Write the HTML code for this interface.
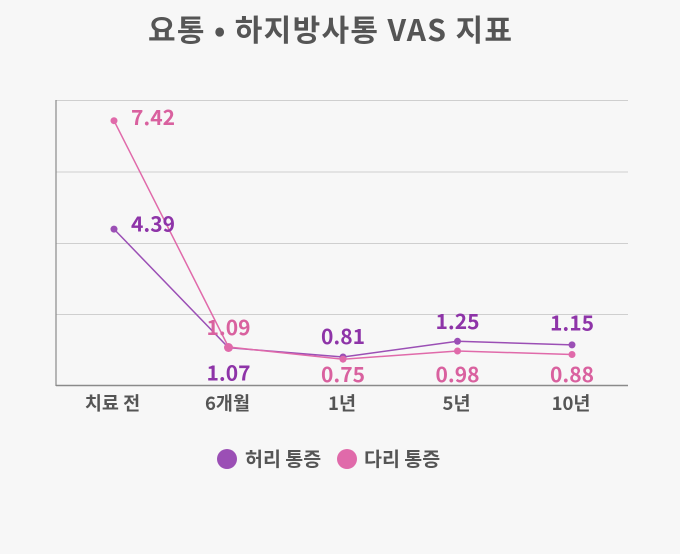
<!DOCTYPE html>
<html>
<head>
<meta charset="utf-8">
<style>
html,body{margin:0;padding:0;background:#f7f7f7;}
svg{display:block;}
text{font-family:"Noto Sans CJK KR","Liberation Sans",sans-serif;font-weight:bold;}
</style>
</head>
<body>
<svg width="680" height="554" viewBox="0 0 680 554" xmlns="http://www.w3.org/2000/svg">
<rect x="0" y="0" width="680" height="554" fill="#f7f7f7"/>
<text x="330" y="41" text-anchor="middle" font-size="30" fill="#555" textLength="364" lengthAdjust="spacing">요통 • 하지방사통 VAS 지표</text>

<!-- grid -->
<g stroke="#cfcfcf" stroke-width="1">
<line x1="56" y1="100.5" x2="628" y2="100.5"/>
<line x1="56" y1="172" x2="628" y2="172"/>
<line x1="56" y1="243.5" x2="628" y2="243.5"/>
<line x1="56" y1="314.5" x2="628" y2="314.5"/>
</g>
<line x1="56" y1="100" x2="56" y2="386" stroke="#8a8a8a" stroke-width="1.2"/>
<line x1="56" y1="385.5" x2="628" y2="385.5" stroke="#8a8a8a" stroke-width="1.4"/>

<!-- purple series -->
<polyline points="114,229.1 228.5,347.7 343,357 457.5,341.3 572,344.9" fill="none" stroke="#9b4fb5" stroke-width="1.5"/>
<g fill="#9b4fb5">
<circle cx="114" cy="229.1" r="3.5"/>
<circle cx="228.5" cy="347.7" r="3.5"/>
<circle cx="343" cy="357" r="3.5"/>
<circle cx="457.5" cy="341.3" r="3.5"/>
<circle cx="572" cy="344.9" r="3.5"/>
</g>
<!-- pink series -->
<polyline points="114,120.7 228.5,347 343,359.2 457.5,351 572,354.5" fill="none" stroke="#e06aaa" stroke-width="1.5"/>
<g fill="#e06aaa">
<circle cx="114" cy="120.7" r="3.5"/>
<circle cx="228.5" cy="347.5" r="4.5"/>
<circle cx="343" cy="359.2" r="3.5"/>
<circle cx="457.5" cy="351" r="3.5"/>
<circle cx="572" cy="354.5" r="3.5"/>
</g>

<!-- labels -->
<g font-size="21">
<text x="131" y="125" fill="#d9619f">7.42</text>
<text x="131" y="231.5" fill="#8e34a8">4.39</text>
<text x="228.5" y="335" text-anchor="middle" fill="#d9619f">1.09</text>
<text x="228.5" y="380.5" text-anchor="middle" fill="#8e34a8">1.07</text>
<text x="343" y="344" text-anchor="middle" fill="#8e34a8">0.81</text>
<text x="343" y="382" text-anchor="middle" fill="#d9619f">0.75</text>
<text x="457.5" y="329" text-anchor="middle" fill="#8e34a8">1.25</text>
<text x="457.5" y="382" text-anchor="middle" fill="#d9619f">0.98</text>
<text x="572" y="330.5" text-anchor="middle" fill="#8e34a8">1.15</text>
<text x="572" y="382" text-anchor="middle" fill="#d9619f">0.88</text>
</g>

<!-- x labels -->
<g font-size="18.5" fill="#555" text-anchor="middle">
<text x="112.5" y="410">치료 전</text>
<text x="227.5" y="410">6개월</text>
<text x="342" y="410">1년</text>
<text x="456.5" y="410">5년</text>
<text x="571" y="410">10년</text>
</g>

<!-- legend -->
<circle cx="227" cy="459" r="10" fill="#9b4fb5"/>
<text x="245" y="466" font-size="19.5" fill="#555">허리 통증</text>
<circle cx="347" cy="459" r="10" fill="#e06aaa"/>
<text x="364" y="466" font-size="19.5" fill="#555">다리 통증</text>
</svg>
</body>
</html>
